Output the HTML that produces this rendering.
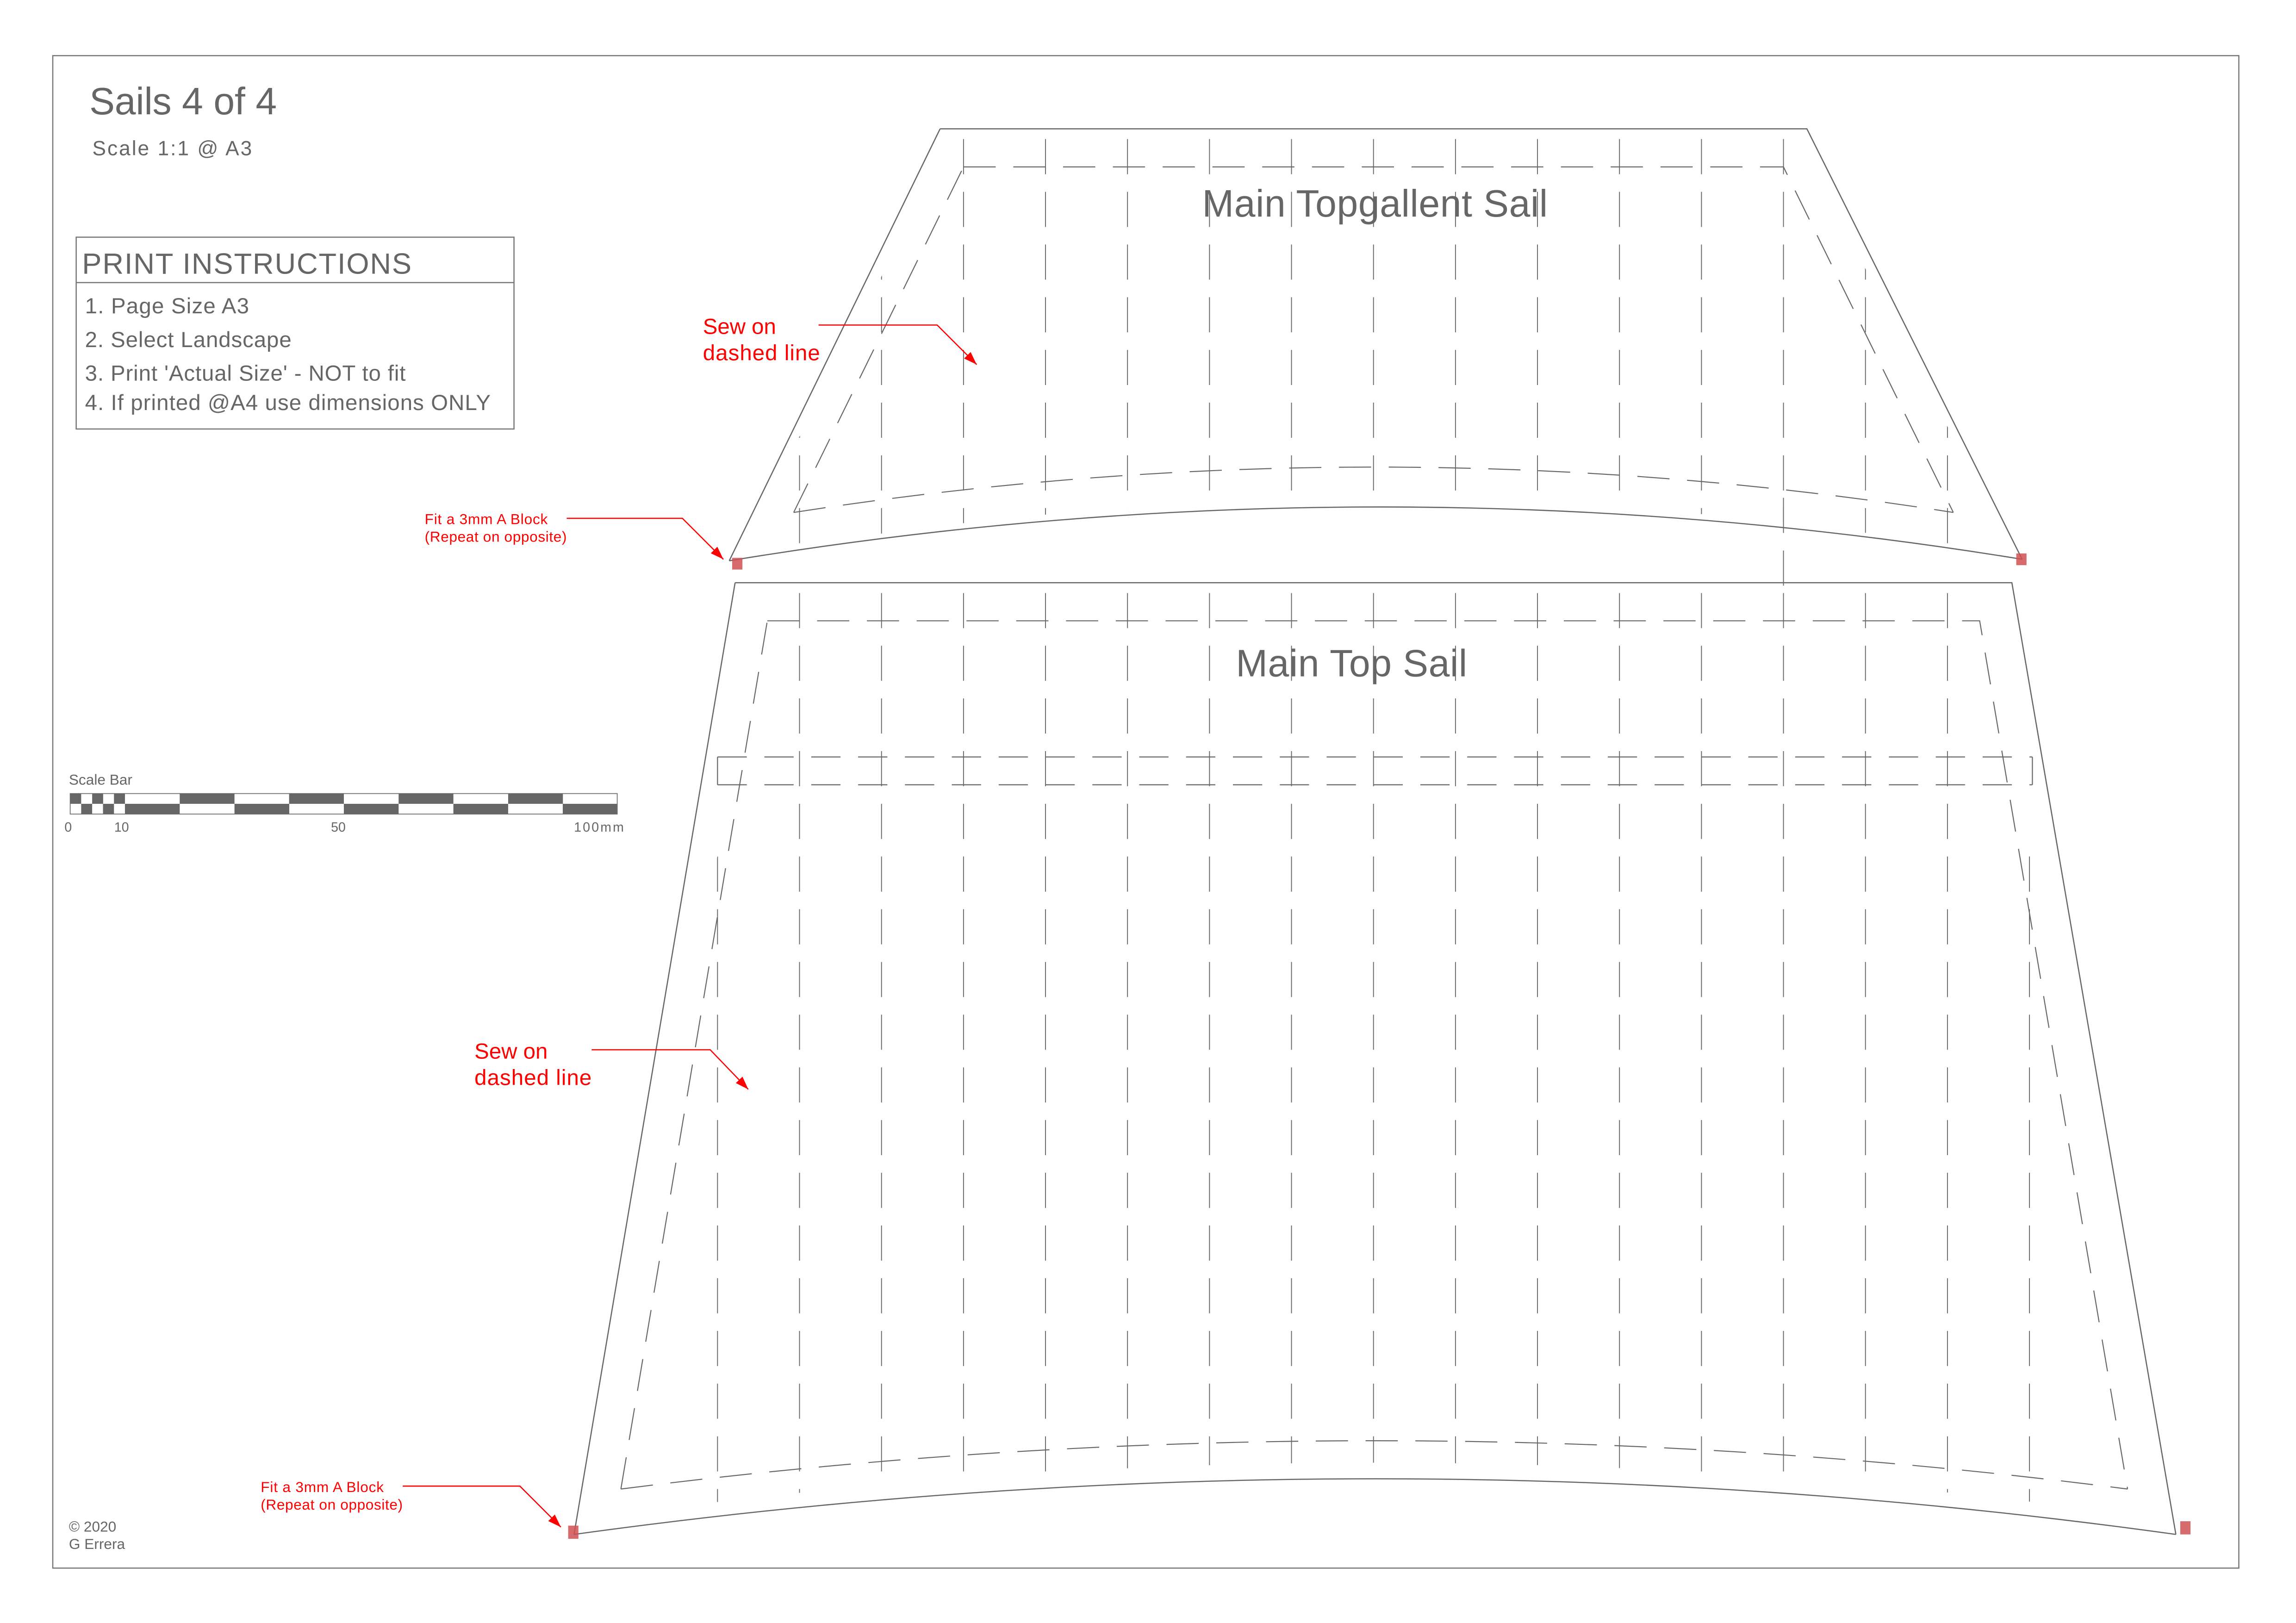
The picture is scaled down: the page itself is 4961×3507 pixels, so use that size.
<!DOCTYPE html>
<html><head><meta charset="utf-8"><style>
html,body{margin:0;padding:0;background:#fff;}
svg{display:block;}
text{font-family:"Liberation Sans",sans-serif;}
</style></head><body>
<svg width="4961" height="3507" viewBox="0 0 1568 1108.5" xmlns="http://www.w3.org/2000/svg">
<defs>
<clipPath id="c1"><path d="M650,95 L1228,95 L1376,380 Q940,302 504,380 Z"/></clipPath>
<clipPath id="c2"><path d="M521,405 L1355,405 L1466,1036 Q940,962 412,1036 Z"/></clipPath>
<marker id="ar" viewBox="0 0 10 10" refX="10" refY="5" markerWidth="9" markerHeight="9" orient="auto" markerUnits="userSpaceOnUse"><path d="M0,1.5 L10,5 L0,8.5 Z" fill="#f00"/></marker>
</defs>
<rect x="36" y="38" width="1493" height="1033" fill="none" stroke="#777" stroke-width="0.8"/>
<text x="61" y="78" font-size="26" fill="#666" textLength="128">Sails 4 of 4</text>
<text x="63" y="106" font-size="14" fill="#666" textLength="109">Scale 1:1 @ A3</text>
<rect x="52" y="162" width="299" height="131" fill="none" stroke="#777" stroke-width="0.8"/>
<line x1="52" y1="193" x2="351" y2="193" stroke="#777" stroke-width="0.8"/>
<text x="56" y="187" font-size="20" fill="#666" textLength="225">PRINT INSTRUCTIONS</text>
<g font-size="15" fill="#666">
<text x="58" y="214" textLength="112">1. Page Size A3</text>
<text x="58" y="237" textLength="141">2. Select Landscape</text>
<text x="58" y="260" textLength="219">3. Print 'Actual Size' - NOT to fit</text>
<text x="58" y="280" textLength="277">4. If printed @A4 use dimensions ONLY</text>
</g>
<text x="47" y="536" font-size="10" fill="#666">Scale Bar</text>
<rect x="47.9" y="542" width="373.6" height="14" fill="#fff" stroke="#777" stroke-width="0.6"/>
<g fill="#666">
<rect x="47.9" y="542" width="7.5" height="7"/><rect x="62.9" y="542" width="7.5" height="7"/><rect x="77.8" y="542" width="7.5" height="7"/>
<rect x="55.4" y="549" width="7.5" height="7"/><rect x="70.3" y="549" width="7.5" height="7"/>
<rect x="122.7" y="542" width="37.4" height="7"/><rect x="197.4" y="542" width="37.4" height="7"/><rect x="272.2" y="542" width="37.4" height="7"/><rect x="347" y="542" width="37.4" height="7"/>
<rect x="85.3" y="549" width="37.4" height="7"/><rect x="160.1" y="549" width="37.4" height="7"/><rect x="234.8" y="549" width="37.4" height="7"/><rect x="309.6" y="549" width="37.4" height="7"/><rect x="384.3" y="549" width="37.2" height="7"/>
</g>
<g font-size="9" fill="#666">
<text x="44" y="568">0</text><text x="78" y="568">10</text><text x="226" y="568">50</text><text x="392" y="568" textLength="34">100mm</text>
</g>
<text x="47" y="1046" font-size="10" fill="#666">© 2020</text>
<text x="47" y="1058" font-size="10" fill="#666">G Errera</text>

<g fill="none" stroke="#666">
<path d="M642,88 L1234,88 L1381,382 M498,383 Q940,310 1381,382 M642,88 L498,383" stroke-width="0.8"/>
<path d="M658,114 L1218,114 L1334,350 M542,350 L658,114 M542,350 Q940,288 1334,350" stroke-width="0.7" stroke-dasharray="22,12"/>
<g clip-path="url(#c1)" stroke-width="0.6" stroke-dasharray="24,12">
<path d="M546,95V390M602,95V390M658,95V390M714,95V390M770,95V390M826,95V390M882,95V390M938,95V390M994,95V390M1050,95V390M1106,95V390M1162,95V390M1218,95V390M1274,95V390M1330,95V390"/>
</g>
<line x1="1218" y1="340" x2="1218" y2="412" stroke-width="0.6" stroke-dasharray="24,12"/>
<path d="M502,398 L1374,398 L1486,1048 M392,1048 Q940,972 1486,1048 M502,398 L392,1048" stroke-width="0.8"/>
<path d="M524,424 L1352,424 L1453,1017 M424,1017 L524,424 M424,1017 Q940,951 1453,1017" stroke-width="0.7" stroke-dasharray="22,12"/>
<path d="M490,517 L1388,517 M490,536 L1388,536" stroke-width="0.7" stroke-dasharray="20,12"/>
<path d="M490,517V536M1388,517V536" stroke-width="0.7"/>
<g clip-path="url(#c2)" stroke-width="0.6" stroke-dasharray="24,12">
<path d="M490,405V1035M546,405V1035M602,405V1035M658,405V1035M714,405V1035M770,405V1035M826,405V1035M882,405V1035M938,405V1035M994,405V1035M1050,405V1035M1106,405V1035M1162,405V1035M1218,405V1035M1274,405V1035M1330,405V1035M1386,405V1035"/>
</g>
</g>
<text x="939" y="148" font-size="26" fill="#666" text-anchor="middle" textLength="236">Main Topgallent Sail</text>
<text x="923" y="462" font-size="26" fill="#666" text-anchor="middle" textLength="158">Main Top Sail</text>

<g fill="#f00">
<text x="480" y="228" font-size="15">Sew on</text><text x="480" y="246" font-size="15" textLength="80">dashed line</text>
<text x="324" y="723" font-size="15">Sew on</text><text x="324" y="741" font-size="15" textLength="80">dashed line</text>
<text x="290" y="358" font-size="10" textLength="84">Fit a 3mm A Block</text><text x="290" y="370" font-size="10" textLength="97">(Repeat on opposite)</text>
<text x="178" y="1019" font-size="10" textLength="84">Fit a 3mm A Block</text><text x="178" y="1031" font-size="10" textLength="97">(Repeat on opposite)</text>
</g>
<g fill="none" stroke="#f00" stroke-width="0.8" marker-end="url(#ar)">
<polyline points="559,222 640,222 667,249"/>
<polyline points="404,717 485,717 511,744"/>
<polyline points="387,354 466,354 494,382"/>
<polyline points="275,1015 355,1015 383,1043"/>
</g>
<g fill="#d05050" opacity="0.85">
<rect x="500" y="381" width="7" height="8"/>
<rect x="1377" y="378" width="7" height="8"/>
<rect x="388" y="1042" width="7" height="9"/>
<rect x="1489" y="1039" width="7" height="9"/>
</g>
</svg>
</body></html>
